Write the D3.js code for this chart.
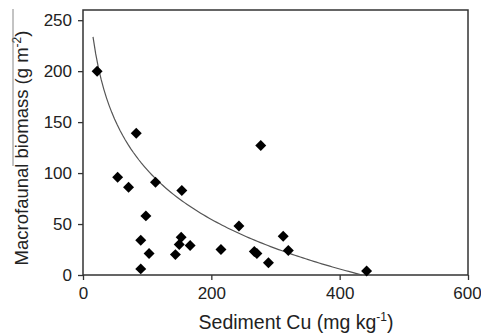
<!DOCTYPE html>
<html>
<head>
<meta charset="utf-8">
<script src="https://cdn.jsdelivr.net/npm/d3@7"></script>
<style>
  body { margin: 0; background: #fff; }
  svg text { font-family: "Liberation Sans", Arial, sans-serif; fill: #222; }
</style>
</head>
<body>
<svg width="481" height="334"></svg>
<script>
// sediment Cu (mg/kg) vs macrofaunal biomass (g/m2)
var cu      = [22, 83, 54, 71, 113, 154, 98, 90, 103, 90, 144, 153, 150, 167, 215, 243, 277, 312, 267, 271, 320, 289, 442];
var biomass = [200, 139, 96, 86, 91, 83, 58, 34, 21, 6, 20, 37, 30, 29, 25, 48, 127, 38, 23, 21, 24, 12, 4];
var xTicks = [0, 200, 400, 600];
var yTicks = [0, 50, 100, 150, 200, 250];

// log trend line y = a - b*ln(x)
var fitA = 426.5, fitB = 70.2, fitFrom = 15.6, fitTo = 435;

var svg = d3.select("svg"),
    margin = {top: 10, right: 13, bottom: 59, left: 83},
    width = 481 - margin.left - margin.right,
    height = 334 - margin.top - margin.bottom,
    g = svg.append("g")
      .attr("transform", "translate(" + margin.left + "," + margin.top + ")");

var x = d3.scaleLinear().domain([0, 600]).range([0, width]);
var y = d3.scaleLinear().domain([0, 260]).range([height, 0]);

// frame
g.append("rect")
    .attr("width", width)
    .attr("height", height)
    .attr("fill", "none")
    .attr("stroke", "#333")
    .attr("stroke-width", 1.5);

var xAxis = g.append("g")
    .attr("transform", "translate(0," + height + ")")
    .call(d3.axisBottom(x).tickValues(xTicks).tickSize(5).tickPadding(7));

var yAxis = g.append("g")
    .call(d3.axisLeft(y).tickValues(yTicks).tickSize(5).tickPadding(6));

[xAxis, yAxis].forEach(function(a) {
  a.select(".domain").remove();
  a.selectAll("line").attr("stroke", "#333").attr("stroke-width", 1.3);
  a.selectAll("text").style("font-size", "17px").attr("fill", "#222");
});
// keep the last x label inside the window
xAxis.selectAll(".tick:last-of-type text").attr("dx", -1);

// trend line
var fit = d3.range(0, 101).map(function(i) {
  var xv = fitFrom + (fitTo - fitFrom) * i / 100;
  return [xv, fitA - fitB * Math.log(xv)];
});
g.append("path")
    .datum(fit)
    .attr("fill", "none")
    .attr("stroke", "#555")
    .attr("stroke-width", 1.2)
    .attr("d", d3.line()
      .x(function(d) { return x(d[0]); })
      .y(function(d) { return y(d[1]); }));

// points
var pts = cu.map(function(c, i) { return {x: c, y: biomass[i]}; });
g.selectAll(".pt")
    .data(pts)
    .enter().append("path")
    .attr("class", "pt")
    .attr("d", d3.symbol().type(d3.symbolSquare).size(60))
    .attr("fill", "#000")
    .attr("transform", function(d) {
      return "translate(" + x(d.x) + "," + y(d.y) + ") rotate(45)";
    });

// axis titles
var xt = svg.append("text")
    .attr("x", 296)
    .attr("y", 329)
    .attr("text-anchor", "middle")
    .style("font-size", "19.5px");
xt.append("tspan").text("Sediment Cu (mg kg");
xt.append("tspan").attr("dy", -8).style("font-size", "12px").text("-1");
xt.append("tspan").attr("dy", 8).text(")");

var yt = svg.append("text")
    .attr("transform", "translate(28,148) rotate(-90)")
    .attr("text-anchor", "middle")
    .style("font-size", "18.5px");
yt.append("tspan").text("Macrofaunal biomass (g m");
yt.append("tspan").attr("dy", -7).style("font-size", "12px").text("-2");
yt.append("tspan").attr("dy", 7).text(")");

// stray rule left of the y title
svg.append("line")
    .attr("x1", 13).attr("x2", 13)
    .attr("y1", 9).attr("y2", 166)
    .attr("stroke", "#888")
    .attr("stroke-width", 1);
</script>
</body>
</html>
